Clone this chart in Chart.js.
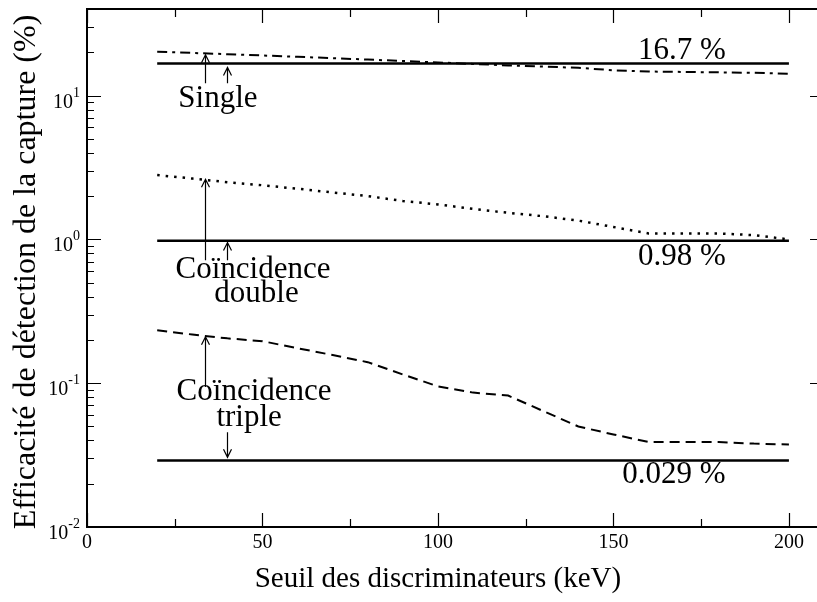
<!DOCTYPE html>
<html>
<head>
<meta charset="utf-8">
<script src="https://cdn.jsdelivr.net/npm/chart.js@4"></script>
<style>
  html, body { margin: 0; padding: 0; background: #fff; overflow: hidden; }
  canvas { display: block; }
</style>
</head>
<body>
<canvas id="effChart" width="817" height="602"></canvas>
<script>
// seuil (keV) et efficacites (%)
const energies  = [20, 30, 40, 50, 60, 70, 80, 90, 100, 110, 120, 130, 140, 150, 160, 170, 180, 190, 200];
const singleEff = [20.2, 19.8, 19.4, 19.0, 18.6, 18.2, 17.8, 17.4, 17.0, 16.6, 16.2, 15.9, 15.6, 15.0, 14.7, 14.6, 14.5, 14.4, 14.2];
const doubleEff = [2.8, 2.65, 2.5, 2.38, 2.25, 2.12, 2.0, 1.85, 1.75, 1.63, 1.53, 1.45, 1.35, 1.22, 1.1, 1.1, 1.1, 1.07, 1.0];
const tripleEff = [0.233, 0.218, 0.205, 0.196, 0.175, 0.157, 0.14, 0.115, 0.095, 0.086, 0.082, 0.064, 0.05, 0.044, 0.039, 0.039, 0.039, 0.038, 0.0375];

// niveaux de reference (lignes pleines)
const refLevels = [16.7, 0.98, 0.029];
const refLabels = ["16.7 %", "0.98 %", "0.029 %"];
const refRange = [20, 200];

const xTicksMajor = [0, 50, 100, 150, 200];
const xTicksMinor = [25, 75, 125, 175];
const yExponents = [-2, -1, 0, 1];
const xAxisEnd = 210; // l'axe droit est coupe par le bord de l'image

// annotations, en coordonnees des donnees
const arrows = [
    [33.5, 12.2, 19.2], [40, 12.2, 15.7],
    [33.5, 0.715, 2.62], [40, 0.715, 0.95],
    [33.5, 0.094, 0.21], [40, 0.0456, 0.0305]
];
const notes = [
    ["Single", 37.3, 9.5],
    ["Co\u00efncidence", 47.3, 0.61],
    ["double", 48.3, 0.415],
    ["Co\u00efncidence", 47.6, 0.0866],
    ["triple", 46.2, 0.0571]
];
const refLabelPos = [[169.5, 20.5], [169.5, 0.762], [167.2, 0.023]];

const serif = "'Liberation Serif', 'DejaVu Serif', serif";

function pts(xs, ys) { return xs.map((x, i) => ({ x: x, y: ys[i] })); }

const datasets = [
    { data: pts(energies, singleEff), borderDash: [10, 5, 3, 5], borderWidth: 2 },
    { data: pts(energies, doubleEff), borderDash: [2.5, 6], borderWidth: 2.5 },
    { data: pts(energies, tripleEff), borderDash: [10, 6], borderWidth: 2 }
];
refLevels.forEach(v => {
    datasets.push({ data: pts(refRange, [v, v]), borderWidth: 2.5 });
});
datasets.forEach(d => {
    d.borderColor = "#000";
    d.pointRadius = 0;
    d.fill = false;
    d.tension = 0;
});

const axesPlugin = {
    id: "axesPlugin",
    afterDraw(chart) {
        const ctx = chart.ctx;
        const xs = chart.scales.x, ys = chart.scales.y;
        const a = chart.chartArea;
        const xRight = xs.getPixelForValue(xAxisEnd);
        ctx.save();
        ctx.strokeStyle = "#000";
        ctx.fillStyle = "#000";
        ctx.setLineDash([]);

        // cadre
        ctx.lineWidth = 2;
        ctx.strokeRect(a.left, a.top, xRight - a.left, a.bottom - a.top);

        // graduations x (haut et bas, vers l'interieur)
        ctx.lineWidth = 1.2;
        const xt = (v, len) => {
            const px = Math.round(xs.getPixelForValue(v)) + 0.5;
            ctx.beginPath();
            ctx.moveTo(px, a.bottom); ctx.lineTo(px, a.bottom - len);
            ctx.moveTo(px, a.top); ctx.lineTo(px, a.top + len);
            ctx.stroke();
        };
        xTicksMajor.forEach(v => xt(v, 14));
        xTicksMinor.forEach(v => xt(v, 8));

        // graduations y (log)
        const yt = (v, len) => {
            const py = Math.round(ys.getPixelForValue(v)) + 0.5;
            ctx.beginPath();
            ctx.moveTo(a.left, py); ctx.lineTo(a.left + len, py);
            ctx.moveTo(xRight, py); ctx.lineTo(xRight - len, py);
            ctx.stroke();
        };
        yExponents.forEach(e => {
            const base = Math.pow(10, e);
            yt(base, 14);
            for (let m = 2; m <= 9; m++) {
                const v = m * base;
                if (v < ys.max) yt(v, 7);
            }
        });

        // etiquettes x
        ctx.font = "20px " + serif;
        ctx.textAlign = "center";
        ctx.textBaseline = "middle";
        xTicksMajor.forEach(v => ctx.fillText(String(v), xs.getPixelForValue(v), a.bottom + 16));

        // etiquettes y : 10 avec exposant
        yExponents.forEach(e => {
            const py = ys.getPixelForValue(Math.pow(10, e));
            const sup = String(e);
            ctx.font = "14px " + serif;
            const wSup = ctx.measureText(sup).width;
            ctx.textAlign = "left";
            ctx.textBaseline = "alphabetic";
            const right = 80;
            ctx.fillText(sup, right - wSup, py + 1);
            ctx.font = "20px " + serif;
            ctx.textAlign = "right";
            ctx.fillText("10", right - wSup, py + 12);
        });

        // titres des axes
        ctx.font = "29px " + serif;
        ctx.textAlign = "center";
        ctx.textBaseline = "middle";
        ctx.fillText("Seuil des discriminateurs (keV)", xs.getPixelForValue(100), 579);
        ctx.save();
        ctx.translate(27, 272);
        ctx.rotate(-Math.PI / 2);
        ctx.font = "32px " + serif;
        ctx.fillText("Efficacit\u00e9 de d\u00e9tection de la capture (%)", 0, 0);
        ctx.restore();

        // fleches
        ctx.lineWidth = 1.2;
        arrows.forEach(([x, y0, y1]) => {
            const px = Math.round(xs.getPixelForValue(x)) + 0.5;
            const p0 = ys.getPixelForValue(y0), p1 = ys.getPixelForValue(y1);
            const dir = p1 < p0 ? 1 : -1;
            ctx.beginPath();
            ctx.moveTo(px, p0); ctx.lineTo(px, p1);
            ctx.moveTo(px - 4, p1 + dir * 8); ctx.lineTo(px, p1); ctx.lineTo(px + 4, p1 + dir * 8);
            ctx.stroke();
        });

        // textes
        ctx.font = "31px " + serif;
        ctx.textAlign = "center";
        ctx.textBaseline = "middle";
        notes.forEach(([t, x, y]) => ctx.fillText(t, xs.getPixelForValue(x), ys.getPixelForValue(y)));
        refLabels.forEach((t, i) => {
            const [x, y] = refLabelPos[i];
            ctx.fillText(t, xs.getPixelForValue(x), ys.getPixelForValue(y));
        });
        ctx.restore();
    }
};

new Chart(document.getElementById("effChart").getContext("2d"), {
    type: "line",
    data: { datasets: datasets },
    options: {
        responsive: false,
        animation: false,
        devicePixelRatio: 1,
        layout: { padding: { left: 87, top: 9, right: 0, bottom: 75 } },
        plugins: { legend: { display: false }, tooltip: { enabled: false } },
        scales: {
            x: { type: "linear", min: 0, max: 208, display: false },
            y: { type: "logarithmic", min: 0.01, max: 40, display: false }
        }
    },
    plugins: [axesPlugin]
});
</script>
</body>
</html>
